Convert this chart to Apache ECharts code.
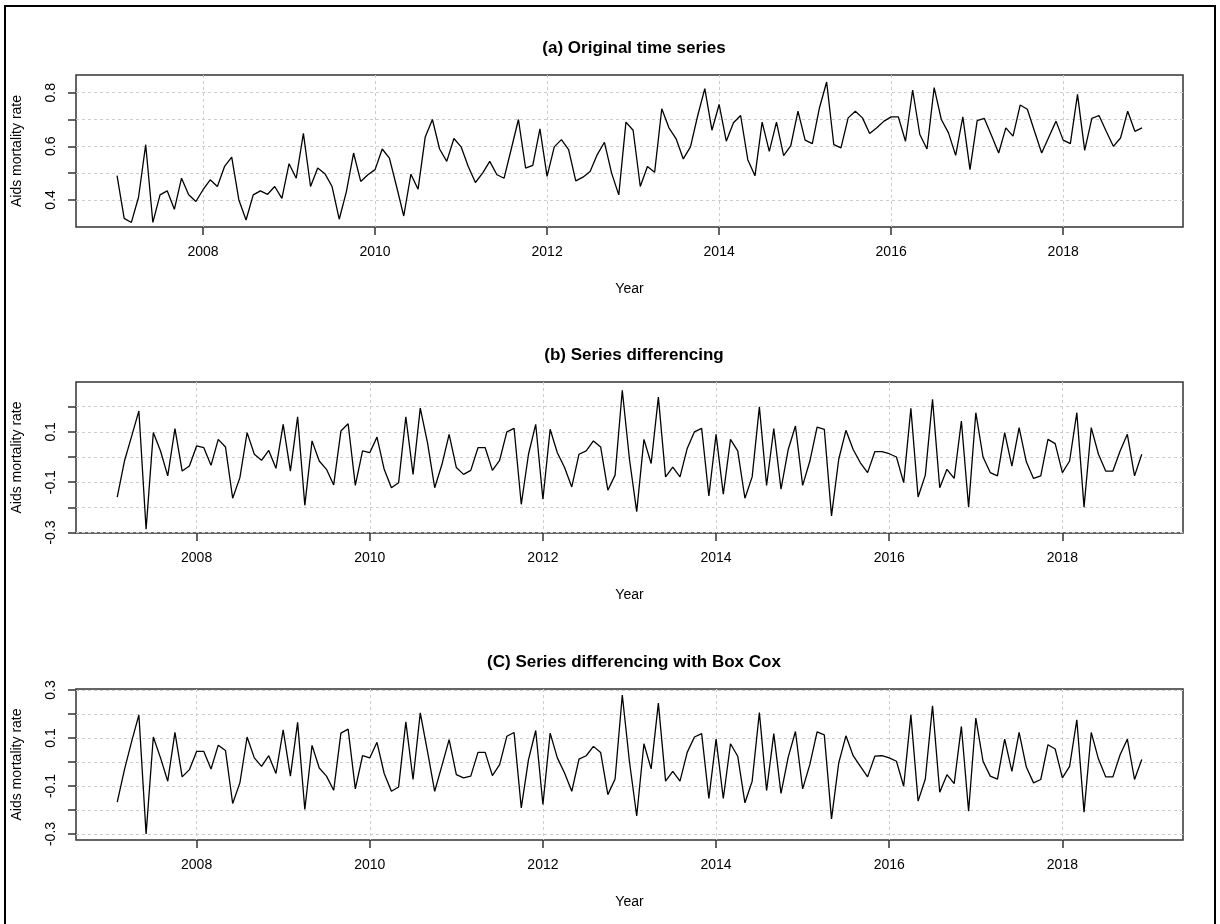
<!DOCTYPE html>
<html>
<head>
<meta charset="utf-8">
<script src="https://cdn.jsdelivr.net/npm/echarts@6/dist/echarts.min.js"></script>
<style>
html, body { margin: 0; padding: 0; background: #fff; }
#container { width: 1220px; height: 924px; }
</style>
</head>
<body>
<div id="container"></div>
<script>
// monthly series, Jan 2007 - Dec 2018
var startYear = 2007;

var rateOriginal = [
  0.491, 0.331, 0.316, 0.41, 0.606, 0.316, 0.419, 0.434, 0.365, 0.481, 0.419, 0.394,
  0.438, 0.475, 0.45, 0.525, 0.56, 0.40, 0.325, 0.419, 0.434, 0.421, 0.45, 0.406,
  0.535, 0.481, 0.648, 0.45, 0.519, 0.498, 0.45, 0.328, 0.431, 0.575, 0.469, 0.494,
  0.513, 0.59, 0.556, 0.45, 0.34, 0.496, 0.44, 0.635, 0.70, 0.59, 0.544, 0.629,
  0.598, 0.525, 0.465, 0.50, 0.544, 0.494, 0.481, 0.59, 0.70, 0.519, 0.529, 0.665,
  0.488, 0.598, 0.625, 0.588, 0.471, 0.485, 0.506, 0.569, 0.615, 0.50, 0.419, 0.69,
  0.66, 0.45, 0.525, 0.503, 0.74, 0.669, 0.628, 0.553, 0.598, 0.713, 0.815, 0.66,
  0.756, 0.619, 0.688, 0.715, 0.55, 0.49, 0.69, 0.581, 0.69, 0.565, 0.603, 0.731,
  0.623, 0.61, 0.744, 0.84, 0.606, 0.594, 0.706, 0.731, 0.706, 0.648, 0.669, 0.694,
  0.71, 0.71, 0.619, 0.81, 0.644, 0.59, 0.819, 0.70, 0.65, 0.566, 0.71, 0.513,
  0.696, 0.704, 0.64, 0.575, 0.669, 0.638, 0.754, 0.738, 0.656, 0.575, 0.635, 0.694,
  0.623, 0.61, 0.794, 0.585, 0.704, 0.715, 0.656, 0.60, 0.631, 0.731, 0.656, 0.669
];

// differenced series start Feb 2007
var rateDiff = [
  -0.159, -0.016, 0.083, 0.183, -0.287, 0.097, 0.024, -0.075, 0.113, -0.056, -0.036, 0.044,
  0.037, -0.033, 0.07, 0.04, -0.164, -0.082, 0.097, 0.011, -0.013, 0.026, -0.045, 0.13,
  -0.056, 0.16, -0.192, 0.064, -0.016, -0.049, -0.111, 0.103, 0.132, -0.113, 0.024, 0.017,
  0.079, -0.049, -0.122, -0.102, 0.16, -0.069, 0.194, 0.057, -0.122, -0.03, 0.09, -0.042,
  -0.069, -0.053, 0.037, 0.037, -0.053, -0.013, 0.10, 0.114, -0.188, 0.011, 0.13, -0.168,
  0.11, 0.017, -0.042, -0.119, 0.011, 0.024, 0.064, 0.04, -0.132, -0.072, 0.265, -0.01,
  -0.217, 0.07, -0.026, 0.238, -0.079, -0.04, -0.079, 0.034, 0.10, 0.114, -0.155, 0.09,
  -0.148, 0.07, 0.024, -0.164, -0.079, 0.199, -0.113, 0.113, -0.128, 0.03, 0.123, -0.113,
  -0.016, 0.119, 0.11, -0.234, -0.009, 0.106, 0.03, -0.023, -0.062, 0.021, 0.021, 0.013,
  0.0, -0.102, 0.193, -0.159, -0.072, 0.229, -0.122, -0.049, -0.085, 0.143, -0.199, 0.176,
  0.0, -0.062, -0.075, 0.097, -0.036, 0.117, -0.019, -0.085, -0.075, 0.07, 0.053, -0.062,
  -0.016, 0.176, -0.199, 0.117, 0.011, -0.056, -0.056, 0.024, 0.09, -0.075, 0.011
];

var rateBoxCox = [
  -0.167, -0.032, 0.086, 0.196, -0.30, 0.104, 0.017, -0.08, 0.123, -0.062, -0.032, 0.044,
  0.044, -0.029, 0.07, 0.048, -0.173, -0.087, 0.104, 0.017, -0.018, 0.026, -0.048, 0.134,
  -0.059, 0.165, -0.198, 0.069, -0.025, -0.059, -0.118, 0.12, 0.137, -0.112, 0.026, 0.017,
  0.082, -0.048, -0.122, -0.104, 0.167, -0.073, 0.205, 0.044, -0.122, -0.015, 0.093, -0.053,
  -0.066, -0.059, 0.04, 0.04, -0.057, -0.011, 0.107, 0.123, -0.191, 0.01, 0.131, -0.177,
  0.12, 0.017, -0.046, -0.122, 0.012, 0.026, 0.065, 0.04, -0.136, -0.071, 0.279, 0.0,
  -0.225, 0.076, -0.029, 0.245, -0.08, -0.039, -0.08, 0.04, 0.104, 0.118, -0.152, 0.095,
  -0.152, 0.076, 0.024, -0.17, -0.08, 0.206, -0.119, 0.118, -0.131, 0.02, 0.127, -0.112,
  -0.01, 0.125, 0.113, -0.237, -0.004, 0.109, 0.026, -0.018, -0.062, 0.024, 0.026, 0.017,
  0.003, -0.101, 0.196, -0.163, -0.071, 0.234, -0.126, -0.053, -0.09, 0.148, -0.205, 0.183,
  0.003, -0.059, -0.071, 0.095, -0.039, 0.123, -0.021, -0.087, -0.073, 0.072, 0.054, -0.066,
  -0.018, 0.176, -0.209, 0.123, 0.012, -0.062, -0.062, 0.03, 0.095, -0.073, 0.01
];

var panelTitles = ['(a) Original time series', '(b) Series differencing', '(C) Series differencing with Box Cox'];
var yearTicks = [2008, 2010, 2012, 2014, 2016, 2018];
var yTicksA = [0.4, 0.5, 0.6, 0.7, 0.8];
var yLabelsA = [0.4, 0.6, 0.8];
var yTicksB = [-0.3, -0.2, -0.1, 0.0, 0.1, 0.2];
var yLabelsB = [-0.3, -0.1, 0.1];
var yTicksC = [-0.3, -0.2, -0.1, 0.0, 0.1, 0.2, 0.3];
var yLabelsC = [-0.3, -0.1, 0.1, 0.3];

function toPairs(vals, firstMonth) {
  var out = [];
  for (var i = 0; i < vals.length; i++) {
    out.push([startYear + (i + firstMonth) / 12, vals[i]]);
  }
  return out;
}

var dom = document.getElementById('container');
var myChart = echarts.init(dom);

var font = 'Liberation Sans, Arial, sans-serif';
var tops = [75, 382, 689];
var heights = [152, 151, 151];
var xRanges = [[2006.523, 2019.393], [2006.607, 2019.393], [2006.607, 2019.393]];
var yRanges = [[0.299, 0.866], [-0.302, 0.298], [-0.325, 0.304]];
var yTicks = [yTicksA, yTicksB, yTicksC];
var yLabels = [yLabelsA, yLabelsB, yLabelsC];
var seriesData = [toPairs(rateOriginal, 0), toPairs(rateDiff, 1), toPairs(rateBoxCox, 1)];

var grids = [], xAxes = [], yAxes = [], series = [], titles = [];
for (var p = 0; p < 3; p++) {
  grids.push({
    left: 76, width: 1107, top: tops[p], height: heights[p],
    show: true, borderColor: '#333', borderWidth: 1.5, backgroundColor: 'transparent'
  });
  titles.push({
    text: panelTitles[p], left: 629, top: tops[p] - 40, textAlign: 'center',
    textStyle: { fontFamily: font, fontSize: 17, fontWeight: 'bold', color: '#000' }
  });
  xAxes.push({
    type: 'value', gridIndex: p, min: xRanges[p][0], max: xRanges[p][1],
    name: 'Year', nameLocation: 'middle', nameGap: 55,
    nameTextStyle: { fontFamily: font, fontSize: 14, color: '#000' },
    axisLine: { show: false, onZero: false },
    axisTick: { show: true, customValues: yearTicks, length: 8, lineStyle: { color: '#333', width: 1.5 } },
    axisLabel: {
      customValues: yearTicks, margin: 18, fontFamily: font, fontSize: 14, color: '#000',
      formatter: function (v) { return String(Math.round(v)); }
    },
    splitLine: { show: true, lineStyle: { color: '#cccccc', type: [3, 3], width: 1 } }
  });
  yAxes.push({
    type: 'value', gridIndex: p, min: yRanges[p][0], max: yRanges[p][1],
    name: 'Aids mortality rate', nameLocation: 'middle', nameGap: 52,
    nameTextStyle: { fontFamily: font, fontSize: 14, color: '#000' },
    axisLine: { show: false, onZero: false },
    axisTick: { show: true, customValues: yTicks[p], length: 8, lineStyle: { color: '#333', width: 1.5 } },
    axisLabel: {
      customValues: yLabels[p], rotate: 90, margin: 18,
      fontFamily: font, fontSize: 14, color: '#000',
      formatter: function (v) { return (+v).toFixed(1); }
    },
    splitLine: { show: true, lineStyle: { color: '#cccccc', type: [3, 3], width: 1 } }
  });
  series.push({
    type: 'line', xAxisIndex: p, yAxisIndex: p, data: seriesData[p],
    showSymbol: false, animation: false,
    lineStyle: { color: '#000', width: 1.3 }
  });
}

var option = {
  backgroundColor: '#fff',
  animation: false,
  title: titles,
  grid: grids,
  xAxis: xAxes,
  yAxis: yAxes,
  series: series,
  graphic: [{
    type: 'rect', silent: true,
    shape: { x: 5, y: 6, width: 1210, height: 930 },
    style: { fill: 'none', stroke: '#000', lineWidth: 2 }
  }]
};

myChart.setOption(option);
</script>
</body>
</html>
